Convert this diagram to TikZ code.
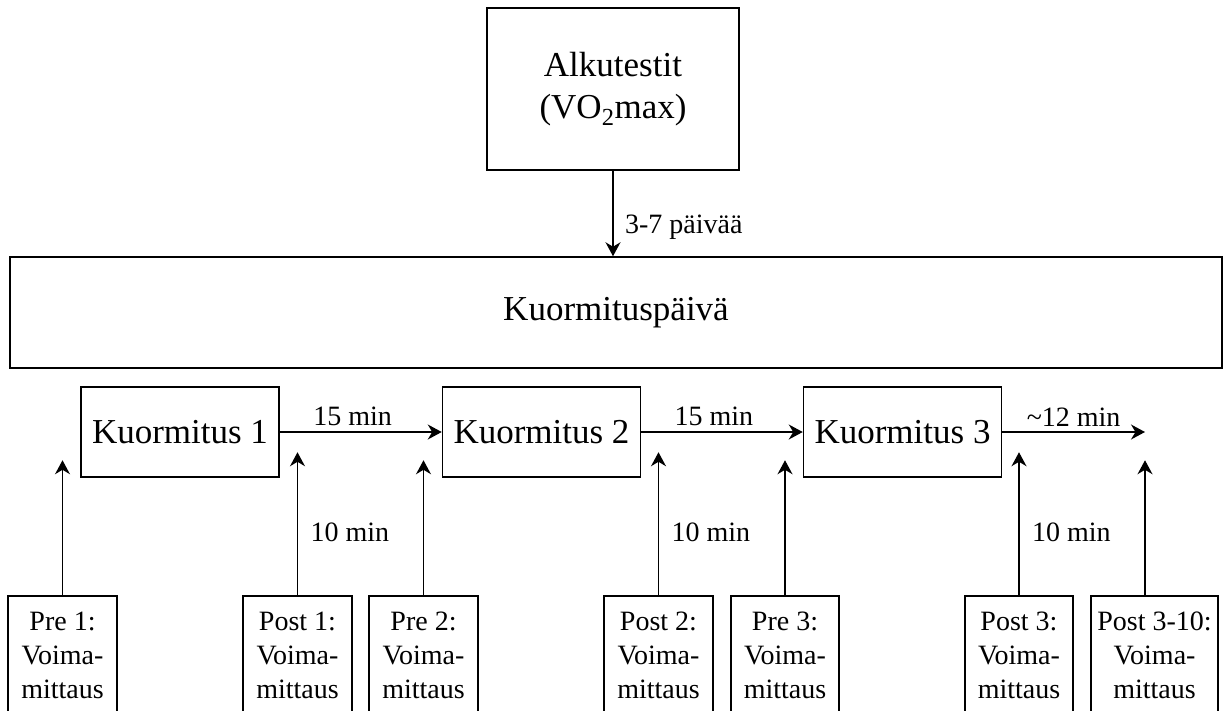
\documentclass[tikz,border=0pt]{standalone}
\usepackage{fontspec}
\setmainfont{Liberation Serif}
\usetikzlibrary{arrows.meta, positioning}

\tikzset{
    box/.style={draw, line width=1.5pt, inner sep=0pt, align=center},
    bigtext/.style={font=\fontsize{35}{42}\selectfont},
    smalltext/.style={font=\fontsize{28}{34}\selectfont},
    conn/.style={line width=1.5pt, -{Stealth[length=14pt, width=15pt, inset=4.5pt]}}
}

\begin{document}
\begin{tikzpicture}[x=1pt, y=-1pt]
    \useasboundingbox (0,0) rectangle (1224,710);
    \node[box, bigtext, minimum width=252pt, minimum height=162pt] (alku) at (613,89) {Alkutestit\\(VO\textsubscript{2}max)};
    \node[box, bigtext, minimum width=1212pt, minimum height=111pt] (paiva) at (616,312.5) {Kuormituspäivä};
    \draw[conn] (alku.south) -- (alku.south |- paiva.north) node[smalltext, pos=0.66, right=8pt] (lblpaiva) {3-7 päivää};
    \foreach \i/\x in {1/180, 2/541.5, 3/902.5}{
        \node[box, bigtext, minimum width=198pt, minimum height=90pt] (k\i) at (\x,432) {Kuormitus \i};
    }
    \coordinate (loppu) at (1145,432);
    \draw[conn] (k1.east) -- (k2.west) node[smalltext, pos=0.45, above, inner sep=5pt] (lbl1) {15 min};
    \draw[conn] (k2.east) -- (k3.west) node[smalltext, pos=0.45, above, inner sep=5pt] (lbl2) {15 min};
    \draw[conn] (k3.east) -- (loppu) node[smalltext, midway, above, inner sep=5pt] (lbl3) {\char`~12 min};
    \foreach \n/\x/\w/\t in {pre1/62.5/109/Pre 1:, post1/297.5/109/Post 1:, pre2/423.5/109/Pre 2:, post2/658.5/109/Post 2:, pre3/785/108/Pre 3:, post3/1019/108/Post 3:, post310/1154.5/127/Post 3-10:}{
        \node[box, smalltext, minimum width=\w pt, minimum height=118pt] (\n) at (\x,655) {\t\\Voima-\\mittaus};
    }
    \foreach \n in {pre1, pre2, pre3}{
        \coordinate (\n top) at ([yshift=135pt]\n.north);
        \draw[conn] (\n.north) -- (\n top);
    }
    \foreach \n/\m in {post1/1, post2/2, post3/3}{
        \coordinate (\n top) at ([yshift=143pt]\n.north);
        \draw[conn] (\n.north) -- (\n top) node[smalltext, pos=0.44, right=9pt] (lblpost\m) {10 min};
    }
    \coordinate (post310top) at ([yshift=135pt]loppu |- post310.north);
    \draw[conn] (loppu |- post310.north) -- (post310top);
\end{tikzpicture}
\end{document}
